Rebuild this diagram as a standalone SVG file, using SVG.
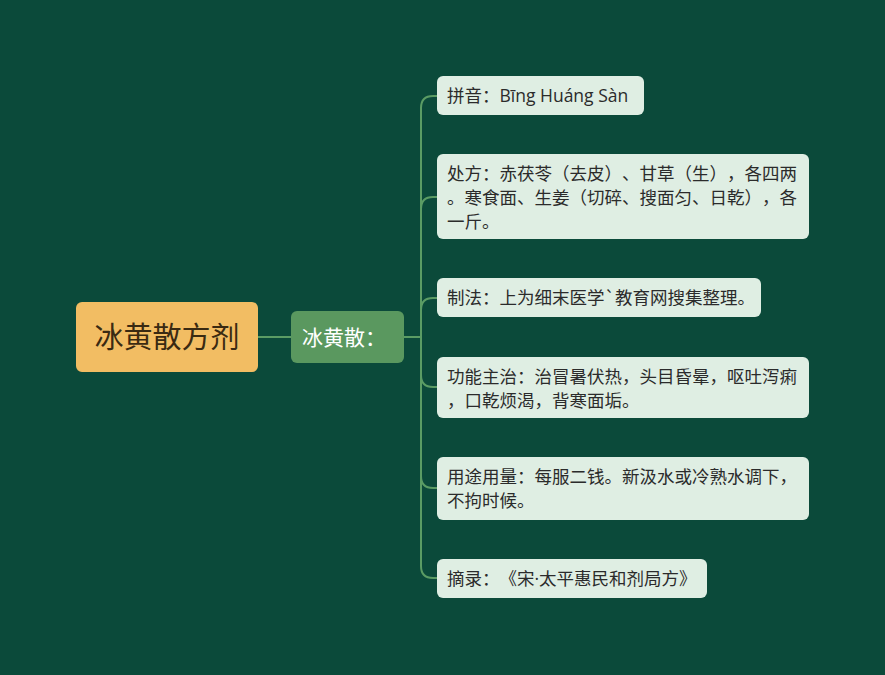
<svg xmlns="http://www.w3.org/2000/svg" width="885" height="675" viewBox="0 0 885 675">
<style>
text{text-spacing-trim:space-all;font-family:"Noto Sans CJK SC","Noto Sans",sans-serif}
.leaf rect{fill:#dfeee3;stroke:none}
.leaf text{font-size:17.5px;fill:#2b2b2b}
.lat{font-family:"Open Sans","Noto Sans",sans-serif}
.conn{fill:none;stroke:#5b9c64;stroke-width:2}
</style>
<rect width="885" height="675" fill="#0b4a3a"/>
<g id="connectors" class="conn">
<line x1="258" y1="337" x2="291" y2="337"/>
<line x1="404" y1="337" x2="421" y2="337"/>
<path d="M421 337 V108 Q421 96 433 96 H437"/>
<path d="M421 337 V209 Q421 197 433 197 H437"/>
<path d="M421 337 V310 Q421 298 433 298 H437"/>
<path d="M421 337 V375 Q421 387 433 387 H437"/>
<path d="M421 337 V476 Q421 488 433 488 H437"/>
<path d="M421 337 V566 Q421 578 433 578 H437"/>
</g>
<g id="root">
<rect x="76" y="302" width="182" height="70" rx="6" fill="#f2bd63"/>
<text x="167" y="348" text-anchor="middle" font-size="29" fill="#3a2a12">冰黄散方剂</text>
</g>
<g id="mid">
<rect x="291" y="311" width="113" height="52" rx="6" fill="#5a985f"/>
<text x="302" y="345" font-size="21" fill="#ffffff">冰黄散：</text>
</g>
<g id="leaf1" class="leaf">
<rect x="437" y="76" width="207" height="39" rx="6"/>
<text x="447" y="102">拼音：<tspan class="lat">Bīng Huáng Sàn</tspan></text>
</g>
<g id="leaf2" class="leaf">
<rect x="437" y="154" width="372" height="85" rx="6"/>
<text x="447" y="180">处方：赤茯苓（去皮）、甘草（生），各四两</text>
<text x="447" y="204">。寒食面、生姜（切碎、搜面匀、日乾），各</text>
<text x="447" y="228">一斤。</text>
</g>
<g id="leaf3" class="leaf">
<rect x="437" y="278" width="324" height="39" rx="6"/>
<text x="447" y="304">制法：上为细末医学`教育网搜集整理。</text>
</g>
<g id="leaf4" class="leaf">
<rect x="437" y="357" width="372" height="61" rx="6"/>
<text x="447" y="383">功能主治：治冒暑伏热，头目昏晕，呕吐泻痢</text>
<text x="447" y="407">，口乾烦渴，背寒面垢。</text>
</g>
<g id="leaf5" class="leaf">
<rect x="437" y="457" width="372" height="63" rx="6"/>
<text x="447" y="483">用途用量：每服二钱。新汲水或冷熟水调下，</text>
<text x="447" y="507">不拘时候。</text>
</g>
<g id="leaf6" class="leaf">
<rect x="437" y="559" width="270" height="39" rx="6"/>
<text x="447" y="585">摘录：《宋<tspan class="lat">·</tspan>太平惠民和剂局方》</text>
</g>
</svg>
